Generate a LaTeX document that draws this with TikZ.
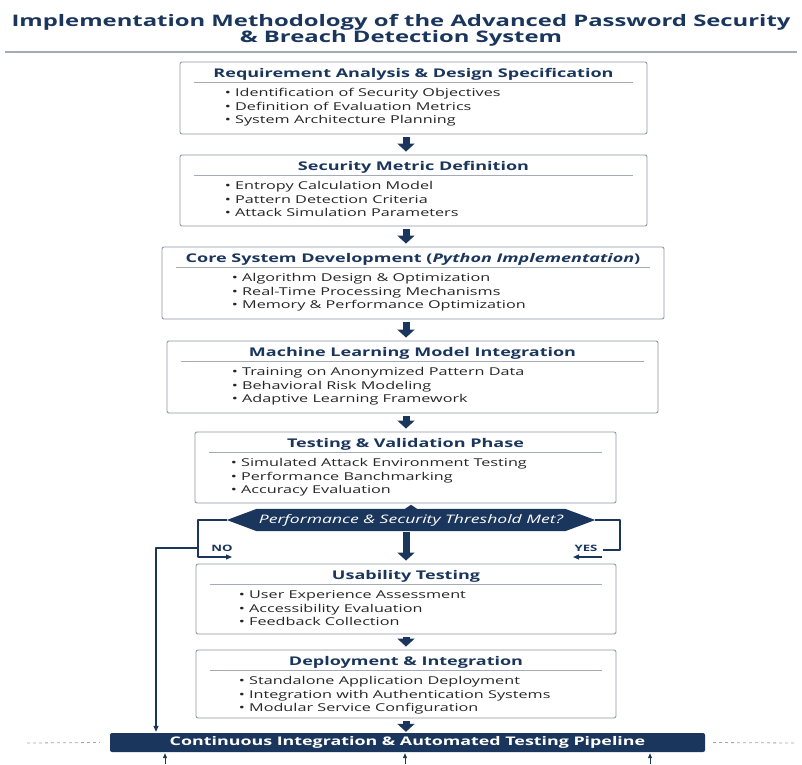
\documentclass[tikz,border=0pt]{standalone}
\usepackage{fontspec}
\setmainfont{Open Sans}[FakeStretch=1.5]
\usetikzlibrary{arrows.meta,backgrounds}
\definecolor{navy}{HTML}{1B365D}
\definecolor{boxline}{HTML}{8C97A6}
\definecolor{rulegrey}{HTML}{A3ACB6}
\definecolor{bodytext}{HTML}{262626}

% header, rule and bullet lines of one stage box
\newcommand{\stagetext}[4]{%
  \node[head] (#1-h) at ([yshift=-15.5pt]#1.north) {#2};
  \draw[hrule] ([xshift=14pt,yshift=-20.5pt]#1.north west) -- ([xshift=-14pt,yshift=-20.5pt]#1.north east);
  \foreach \itm [count=\k] in {#4}
    \node[item] (#1-\k) at ([xshift=#3,yshift={-35pt-13.5pt*(\k-1)}]#1.north west) {\textbullet\hspace{0.4em}\itm};
}

\begin{document}
\begin{tikzpicture}[x=1pt,y=-1pt,line join=round,
    stage/.style={draw=boxline,line width=0.9pt,rounded corners=2pt,fill=white,inner sep=0pt},
    head/.style={text=navy,font=\fontsize{12}{14}\selectfont\bfseries,inner sep=0pt,anchor=base},
    item/.style={text=bodytext,font=\fontsize{10.8}{13}\selectfont,inner sep=0pt,anchor=base west},
    hrule/.style={draw=rulegrey,line width=0.8pt},
    flow/.style={navy,line width=7pt,shorten <=3pt,shorten >=3pt,-{Triangle[length=8pt,width=17pt]}},
    thinarrow/.style={navy,line width=1.2pt,-{Triangle[length=6pt,width=5pt]}},
    yesno/.style={text=navy,font=\fontsize{8.8}{10}\selectfont\bfseries,inner sep=0pt},
  ]
  \useasboundingbox (0,0) rectangle (802,764);

  % title
  \node[text=navy,font=\fontsize{15.9}{18}\selectfont\bfseries] (title1) at (401,22) {Implementation Methodology of the Advanced Password Security};
  \node[text=navy,font=\fontsize{15.9}{18}\selectfont\bfseries] (title2) at (401,38.5) {\& Breach Detection System};
  \draw[rulegrey,line width=1.2pt] (5,52) -- (797,52);

  \coordinate (axis) at (406,0);

  % stages
  \node[stage,minimum width=467pt,minimum height=72pt] (req) at (413.5,98) {};
  \stagetext{req}{Requirement Analysis \& Design Specification}{45pt}%
    {Identification of Security Objectives,Definition of Evaluation Metrics,System Architecture Planning}

  \node[stage,minimum width=467pt,minimum height=71pt] (metric) at (413.5,190.5) {};
  \stagetext{metric}{Security Metric Definition}{45pt}%
    {Entropy Calculation Model,Pattern Detection Criteria,Attack Simulation Parameters}

  \node[stage,minimum width=502pt,minimum height=72pt] (core) at (413,283) {};
  \stagetext{core}{Core System Development ({\itshape Python Implementation})}{70pt}%
    {Algorithm Design \& Optimization,Real-Time Processing Mechanisms,Memory \& Performance Optimization}

  \node[stage,minimum width=491pt,minimum height=72pt] (ml) at (412.5,377) {};
  \stagetext{ml}{Machine Learning Model Integration}{65pt}%
    {Training on Anonymized Pattern Data,Behavioral Risk Modeling,Adaptive Learning Framework}

  \node[stage,minimum width=421pt,minimum height=71pt] (test) at (405.5,467.5) {};
  \stagetext{test}{Testing \& Validation Phase}{36pt}%
    {Simulated Attack Environment Testing,Performance Banchmarking,Accuracy Evaluation}

  % decision
  \node[minimum width=368pt,minimum height=22pt,inner sep=0pt] (dec) at (411,520) {};
  \begin{scope}[on background layer]
    \fill[navy] (dec.west) -- ([xshift=30pt]dec.north west) -- ([xshift=-6pt]dec.north)
      -- ([yshift=4pt]dec.north) -- ([xshift=6pt]dec.north) -- ([xshift=-30pt]dec.north east)
      -- (dec.east) -- ([xshift=-30pt]dec.south east) -- ([xshift=30pt]dec.south west) -- cycle;
  \end{scope}
  \node[text=white,font=\fontsize{11.7}{13}\selectfont\itshape,inner sep=0pt] (dectext) at (dec) {Performance \& Security Threshold Met?};

  \node[stage,minimum width=420pt,minimum height=70pt] (usab) at (406,599) {};
  \stagetext{usab}{Usability Testing}{43pt}%
    {User Experience Assessment,Accessibility Evaluation,Feedback Collection}

  \node[stage,minimum width=420pt,minimum height=68pt] (deploy) at (406,684) {};
  \stagetext{deploy}{Deployment \& Integration}{43pt}%
    {Standalone Application Deployment,Integration with Authentication Systems,Modular Service Configuration}

  % pipeline bar
  \node[fill=navy,rounded corners=2pt,minimum width=595pt,minimum height=19pt,inner sep=0pt,
    text=white,font=\fontsize{11.9}{14}\selectfont\bfseries] (ci) at (407.5,742.5)
    {Continuous Integration \& Automated Testing Pipeline};
  \draw[gray!70,line width=0.8pt,dashed] (27,743) -- ([xshift=-10pt]ci.west);
  \draw[gray!70,line width=0.8pt,dashed] ([xshift=8pt]ci.east) -- (797,743);

  % main flow
  \draw[flow] (req.south -| axis) -- (metric.north -| axis);
  \draw[flow] (metric.south -| axis) -- (core.north -| axis);
  \draw[flow] (core.south -| axis) -- (ml.north -| axis);
  \draw[flow] (ml.south -| axis) -- (test.north -| axis);
  \draw[flow,shorten <=1pt] (dec.south -| axis) -- (usab.north -| axis);
  \draw[flow] (usab.south -| axis) -- (deploy.north -| axis);
  \draw[flow,shorten >=1pt] (deploy.south -| axis) -- (ci.north -| axis);

  % NO branch
  \coordinate (nocorner) at (198,557);
  \coordinate (loopleft) at (156,548);
  \draw[thinarrow] (dec.west) -| (nocorner) -- ++(34,0);
  \node[yesno] (nolbl) at (222,548) {NO};
  \draw[thinarrow,shorten >=1pt] (nocorner |- loopleft) -- (loopleft) -- (loopleft |- ci.north);

  % YES branch
  \coordinate (yescorner) at (620,550);
  \draw[navy,line width=1.2pt] (dec.east) -| (yescorner) -- ++(-17,0);
  \node[yesno] (yeslbl) at (586,548) {YES};
  \coordinate (yesarrow) at (602,557);
  \draw[thinarrow] (yesarrow) -- ++(-29,0);

  % feeds into the pipeline
  \foreach \x in {165,405,650}
    \draw[thinarrow,line width=0.9pt,-{Triangle[length=5pt,width=4pt]},shorten >=1pt] (\x,764) -- (ci.south -| \x,0);
\end{tikzpicture}
\end{document}
